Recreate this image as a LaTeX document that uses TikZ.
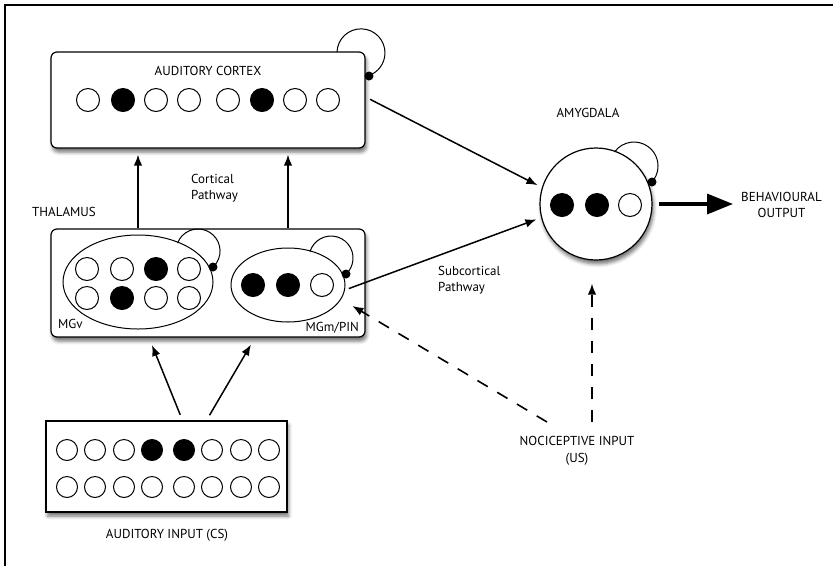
\documentclass[tikz,border=0pt]{standalone}
\usepackage{fontspec}
\setmainfont{PT Sans}
\usepackage{tikz}
\usetikzlibrary{shapes.geometric,arrows.meta,calc,shadows.blur}

\begin{document}
\begin{tikzpicture}[x=1pt,y=-1pt,
	>={Latex[length=11pt,width=8.5pt]},
	font=\fontsize{13}{16.5}\selectfont,
	region/.style={draw,line width=1.2pt,fill=white,blur shadow={shadow xshift=1.5pt,shadow yshift=-4pt,shadow blur radius=3.5pt,shadow opacity=55}},
	cell/.style={circle,draw,line width=1pt,fill=white,minimum size=23pt,inner sep=0pt},
	nucleus/.style={ellipse,draw,line width=1pt},
	knob/.style={circle,fill=black,minimum size=9pt,inner sep=0pt},
	loopline/.style={line width=1pt},
	link/.style={->,line width=1.5pt},
	usline/.style={->,line width=1.6pt,dash pattern=on 12pt off 11pt},
	tag/.style={inner sep=1pt}]
					\useasboundingbox (0,0) rectangle (833,566);
					\draw[line width=2pt] (5,566) -- (5,5) -- (833,5);
					\node[region,rounded corners=6pt,minimum width=314pt,minimum height=96pt] (cortex) at (208,100) {};
					\node[tag] (cortexlbl) at (208,71) {AUDITORY CORTEX};
					\foreach \x/\f [count=\i] in {88/white,123/black,156/white,189/white,228/white,262/black,295/white,328/white}
						\node[cell,fill=\f] (ctx\i) at (\x,100) {};
					\node[region,rounded corners=6pt,minimum width=314pt,minimum height=108pt] (thal) at (208,283) {};
					\node[tag,anchor=west] (thallbl) at (31,212) {THALAMUS};
					\node[nucleus,minimum width=150pt,minimum height=94pt] (mgv) at (138,282) {};
					\node[nucleus,minimum width=114pt,minimum height=74pt] (mgm) at (288,285) {};
					\node[tag,anchor=west] (mgvlbl) at (57,324) {MGv};
					\node[tag,anchor=east] (mgmlbl) at (360,328) {MGm/PIN};
					\foreach \x/\f [count=\i] in {87/white,122/white,156/black,189/white}
						\node[cell,fill=\f] (mgva\i) at (\x,269) {};
					\foreach \x/\f [count=\i] in {87/white,122/black,156/white,189/white}
						\node[cell,fill=\f] (mgvb\i) at (\x,298) {};
					\foreach \x/\f [count=\i] in {253/black,288/black,322/white}
						\node[cell,fill=\f] (mgmc\i) at (\x,285) {};
					\node[region,minimum width=241pt,minimum height=91pt] (input) at (166.5,466.5) {};
					\foreach \x/\f [count=\i] in {67/white,95/white,124/white,152/black,184/black,212/white,241/white,269/white}
						\node[cell,fill=\f,minimum size=21pt] (ina\i) at (\x,450) {};
					\foreach \x [count=\i] in {67,95,124,152,184,212,241,269}
						\node[cell,minimum size=21pt] (inb\i) at (\x,487) {};
					\node[tag] (inputlbl) at (167,535) {AUDITORY INPUT (CS)};
					\node[region,circle,minimum size=112pt] (amyg) at (596,204) {};
					\node[tag] (amyglbl) at (588,113) {AMYGDALA};
					\foreach \x/\f [count=\i] in {562/black,597/black,630/white}
						\node[cell,fill=\f] (amc\i) at (\x,205) {};
					\node[tag,align=center,anchor=west] (output) at (740,205) {BEHAVIOURAL\\OUTPUT};
					\node[tag,align=center] (noci) at (577,451) {NOCICEPTIVE INPUT\\(US)};
					\node[tag,align=left,anchor=west] (cortical) at (190,188) {Cortical\\Pathway};
					\node[tag,align=left,anchor=west] (subcortical) at (437,280) {Subcortical\\Pathway};
					\coordinate (ctxloop) at (337,52);
					\coordinate (mgvloop) at (177.5,243.1);
					\coordinate (mgmloop) at (310,251.6);
					\coordinate (amloop) at (614.6,151.9);
					\draw[loopline] (ctxloop) arc[start angle=182,end angle=431,radius=24];
					\draw[loopline] (mgvloop) arc[start angle=201,end angle=406.6,radius=22];
					\draw[loopline] (mgmloop) arc[start angle=197,end angle=408,radius=22];
					\draw[loopline] (amloop) arc[start angle=216,end angle=401.6,radius=24];
					\node[knob] (ctxknob) at (369,76) {};
					\node[knob] (mgvknob) at (213,267) {};
					\node[knob] (mgmknob) at (346,274) {};
					\node[knob] (amknob) at (652,182) {};
					\draw[link,shorten >=6pt] (mgv |- thal.north) -- (mgv |- cortex.south);
					\draw[link,shorten >=6pt] (mgm |- thal.north) -- (mgm |- cortex.south);
					\draw[link,shorten <=6pt,shorten >=8pt] ($(input.north)+(16,0)$) -- ($(thal.south)+(-59,0)$);
					\draw[link,shorten <=6pt,shorten >=8pt] ($(input.north)+(40,0)$) -- ($(thal.south)+(47,0)$);
					\draw[link,shorten <=5pt,shorten >=5pt] ($(cortex.east)+(0,-3)$) -- (amyg.163);
					\draw[link,shorten <=4pt,shorten >=5pt] (mgm.-5) -- (amyg.194);
					\draw[line width=3.5pt,-{Triangle[length=26pt,width=20pt]},shorten <=6pt,shorten >=7pt] (amyg.east) -- (output.west |- amyg.east);
					\coordinate (usl) at (547,422);
					\coordinate (usr) at (592,422);
					\draw[usline,shorten >=13pt] (usl) -- (mgm.-15);
					\draw[usline,shorten >=23pt] (usr) -- (usr |- amyg.south);
				\end{tikzpicture}
\end{document}
